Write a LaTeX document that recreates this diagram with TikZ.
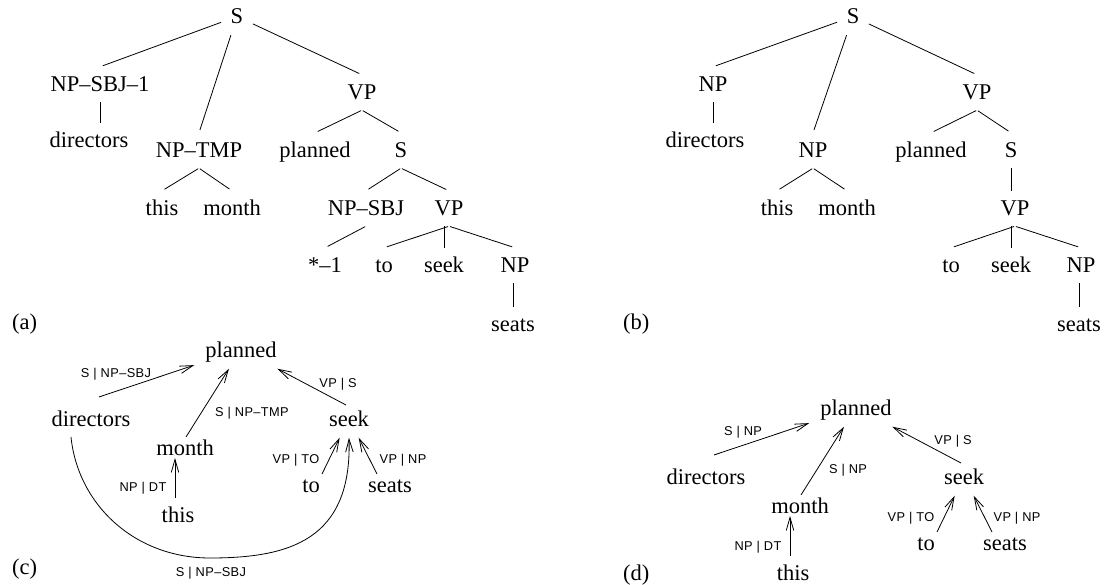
\documentclass[tikz,border=0pt]{standalone}
\usepackage{fontspec}
\setmainfont{Liberation Serif}
\newfontfamily\lblfont[LetterSpace=3]{Liberation Sans}
\usetikzlibrary{arrows.meta,calc}
\begin{document}
\begin{tikzpicture}[x=1pt,y=-1pt,
  tn/.style={font=\fontsize{22.5}{27}\selectfont, text height=15pt, text depth=0pt, inner xsep=8.5pt, inner ysep=10pt, anchor=base},
  wn/.style={font=\fontsize{22.5}{27}\selectfont, text height=15pt, text depth=0pt, inner xsep=11pt, inner ysep=11.5pt, anchor=base},
  pl/.style={font=\fontsize{22.5}{27}\selectfont, inner sep=0pt, anchor=base west},
  lb/.style={font=\lblfont\fontsize{12.8}{14}\selectfont, inner sep=0pt, text height=9pt, text depth=0pt, anchor=center},
  ed/.style={line width=0.8pt, shorten >=3pt, shorten <=1pt},
  vd/.style={line width=0.8pt},
  ar/.style={line width=0.8pt, -{Straight Barb[length=13pt,width=7.5pt]}},
]
\useasboundingbox (0,0) rectangle (1106,585);

% ---------- (a) ----------
\node[tn] (a0) at (237,24) {S};
\node[tn] (a1) at (100,92) {NP–SBJ–1};
\node[tn] (a2) at (89,148) {directors};
\node[tn] (a3) at (199,158) {NP–TMP};
\node[tn] (a4) at (162,216) {this};
\node[tn] (a5) at (232,216) {month};
\node[tn] (a6) at (362,100) {VP};
\node[tn] (a7) at (315,158) {planned};
\node[tn] (a8) at (401,158) {S};
\node[tn] (a9) at (366,216) {NP–SBJ};
\node[tn] (a10) at (449,216) {VP};
\node[tn] (a11) at (325,273) {*–1};
\node[tn] (a12) at (384,273) {to};
\node[tn] (a13) at (444,273) {seek};
\node[tn] (a14) at (515,273) {NP};
\node[tn] (a15) at (513,332) {seats};
\node[pl] (la) at (12,330) {(a)};

\draw[ed] (a0) -- (a1.north);
\draw[ed] (a0) -- (a3.north);
\draw[ed] (a0) -- (a6.north);
\draw[vd] (a1.south) -- (a1.south |- a2.north);
\draw[ed] (a3.south) -- (a4.north);
\draw[ed] (a3.south) -- (a5.north);
\draw[ed] (a6.south) -- (a7.north);
\draw[ed] (a6.south) -- (a8.north);
\draw[ed] (a8.south) -- (a9.north);
\draw[ed] (a8.south) -- (a10.north);
\draw[ed] (a9.south) -- (a11.north);
\draw[ed] (a10.south) -- (a12.north);
\draw[vd] (a10.south -| a13.north) -- (a13.north);
\draw[ed] (a10.south) -- (a14.north);
\draw[vd] (a14.south -| a15.north) -- (a15.north);

% ---------- (b) ----------
\node[tn] (b0) at (853,24) {S};
\node[tn] (b1) at (713,92) {NP};
\node[tn] (b2) at (705,148) {directors};
\node[tn] (b3) at (813,158) {NP};
\node[tn] (b4) at (777,216) {this};
\node[tn] (b5) at (847,216) {month};
\node[tn] (b6) at (977,100) {VP};
\node[tn] (b7) at (931,158) {planned};
\node[tn] (b8) at (1011,158) {S};
\node[tn] (b9) at (1015,216) {VP};
\node[tn] (b10) at (951,273) {to};
\node[tn] (b11) at (1011,273) {seek};
\node[tn] (b12) at (1081,273) {NP};
\node[tn] (b13) at (1079,332) {seats};
\node[pl] (lb) at (623,330) {(b)};

\draw[ed] (b0) -- (b1.north);
\draw[ed] (b0) -- (b3.north);
\draw[ed] (b0) -- (b6.north);
\draw[vd] (b1.south) -- (b1.south |- b2.north);
\draw[ed] (b3.south) -- (b4.north);
\draw[ed] (b3.south) -- (b5.north);
\draw[ed] (b6.south) -- (b7.north);
\draw[ed] (b6.south) -- (b8.north);
\draw[vd] (b8.south) -- (b8.south |- b9.north);
\draw[ed] (b9.south) -- (b10.north);
\draw[vd] (b9.south -| b11.north) -- (b11.north);
\draw[ed] (b9.south) -- (b12.north);
\draw[vd] (b12.south -| b13.north) -- (b13.north);

% ---------- (c) ----------
\node[wn] (c1) at (241,357) {planned};
\node[wn] (c2) at (91,426) {directors};
\node[wn] (c3) at (349,426) {seek};
\node[wn] (c4) at (185,455) {month};
\node[wn] (c5) at (178,522) {this};
\node[wn] (c6) at (311,492) {to};
\node[wn] (c7) at (390,492) {seats};
\node[pl] (lc) at (12,574) {(c)};
\coordinate (cbot) at (210,558);

\draw[ar] ($(c2)+(8,-21.5)$) -- (c1);
\draw[ar] ($(c4)+(1,-10.5)$) -- (c1);
\draw[ar] ($(c3)+(-3,-13.5)$) -- (c1);
\draw[ar] ($(c5)+(-3,-16.5)$) -- ($(c4)+(-10,10.5)$);
\draw[ar] ($(c6)+(11,-10.5)$) -- (c3);
\draw[ar] ($(c7)+(-13,-10.5)$) -- (c3);
\draw[ar] ($(c2)+(-20,18.5)$) .. controls ($(c2)+(-13,86.5)$) and ($(cbot)+(-75,0)$) .. (cbot)
  .. controls ($(cbot)+(80,0)$) and ($(c3.south)+(3,102)$) .. (c3.south);

\node[lb] (c1l) at (116,373) {S | NP–SBJ};
\node[lb] (c2l) at (252,412) {S | NP–TMP};
\node[lb] (c3l) at (338,383) {VP | S};
\node[lb] (c4l) at (143,487) {NP | DT};
\node[lb] (c5l) at (296,459) {VP | TO};
\node[lb] (c6l) at (403,459) {VP | NP};
\node[lb] (c7l) at (211,572) {S | NP–SBJ};

% ---------- (d) ----------
\node[wn] (d1) at (856,415) {planned};
\node[wn] (d2) at (706,484) {directors};
\node[wn] (d3) at (964,484) {seek};
\node[wn] (d4) at (800,513) {month};
\node[wn] (d5) at (793,580) {this};
\node[wn] (d6) at (926,550) {to};
\node[wn] (d7) at (1005,550) {seats};
\node[pl] (ld) at (623,580) {(d)};

\draw[ar] ($(d2)+(8,-21.5)$) -- (d1);
\draw[ar] ($(d4)+(1,-10.5)$) -- (d1);
\draw[ar] ($(d3)+(-3,-13.5)$) -- (d1);
\draw[ar] ($(d5)+(-3,-16.5)$) -- ($(d4)+(-10,10.5)$);
\draw[ar] ($(d6)+(11,-10.5)$) -- (d3);
\draw[ar] ($(d7)+(-13,-10.5)$) -- (d3);

\node[lb] (d1l) at (743,431) {S | NP};
\node[lb] (d2l) at (848,469) {S | NP};
\node[lb] (d3l) at (953,440) {VP | S};
\node[lb] (d4l) at (758,546) {NP | DT};
\node[lb] (d5l) at (911,517) {VP | TO};
\node[lb] (d6l) at (1017,517) {VP | NP};
\end{tikzpicture}
\end{document}
